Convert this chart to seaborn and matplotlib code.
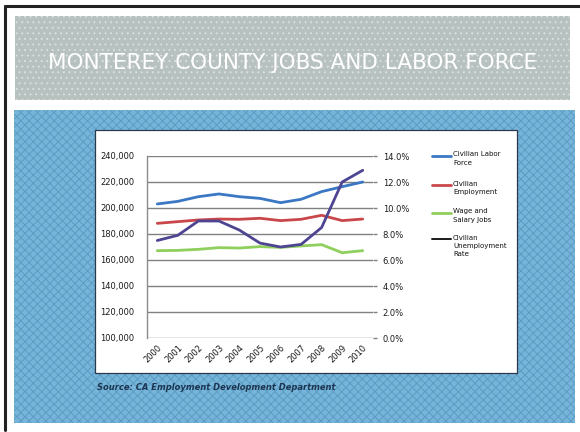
import matplotlib
matplotlib.use("Agg")
import matplotlib.pyplot as plt
from matplotlib.patches import Rectangle
from matplotlib.lines import Line2D
from matplotlib.ticker import FuncFormatter, PercentFormatter
import pandas as pd
import seaborn as sns

# Annual figures, Monterey County
years = [2000, 2001, 2002, 2003, 2004, 2005, 2006, 2007, 2008, 2009, 2010]
labor_force = [203100, 205100, 208700, 210800, 208700, 207400, 204100, 206700, 212600, 216400, 220000]
employment = [188200, 189500, 190800, 191500, 191300, 192100, 190300, 191300, 194400, 190300, 191500]
wage_salary_jobs = [167200, 167400, 168200, 169500, 169200, 170300, 169700, 170800, 171800, 165600, 167200]
unemployment_rate = [7.5, 7.9, 9.0, 9.0, 8.3, 7.3, 7.0, 7.2, 8.5, 12.0, 12.9]

series_names = ["Civilian Labor\nForce", "Civilian\nEmployment", "Wage and\nSalary Jobs"]
rate_name = "Civilian\nUnemployment\nRate"
colors = ["#3a78c4", "#c9474a", "#8fcf5c"]
rate_color = "#4d4592"

title = "MONTEREY COUNTY JOBS AND LABOR FORCE"
source = "Source: CA Employment Development Department"

sns.set_style("white")
plt.rcParams["font.family"] = ["DejaVu Sans"]
plt.rcParams["hatch.linewidth"] = 0.7

W, H = 580, 432
fig = plt.figure(figsize=(W / 100, H / 100), dpi=100)
fig.patch.set_facecolor("white")


def fx(x):
    return x / W


def fy(y):
    return 1 - y / H


def px_rect(x0, y0, x1, y1, **kw):
    """Rectangle given in pixel coordinates measured from the top-left."""
    r = Rectangle((fx(x0), fy(y1)), (x1 - x0) / W, (y1 - y0) / H,
                  transform=fig.transFigure, **kw)
    fig.add_artist(r)
    return r


# slide backdrop: title band, textured blue panel, white chart card
px_rect(15, 16, 570, 100, facecolor="#b7c1bf", edgecolor="#d9e0de", hatch="...", lw=0, zorder=0)
px_rect(14, 110, 575, 423, facecolor="#76b5d9", edgecolor="#5b9cc4", hatch="xxxx", lw=0, zorder=0)
px_rect(95, 130, 517, 373, facecolor="white", edgecolor="#2a3a4a", lw=0.9, zorder=1)

# frame lines of the slide
fig.add_artist(Line2D([fx(5), fx(5)], [fy(6), fy(430)], color="#222222", lw=2.2,
                      transform=fig.transFigure))
fig.add_artist(Line2D([fx(5), 1.0], [fy(6), fy(6)], color="#222222", lw=2.2,
                      transform=fig.transFigure))

fig.text(fx(293), fy(63), title, color="white", fontsize=15.5, fontweight="normal",
         ha="center", va="center")
fig.text(fx(97), fy(388), source, color="#1d3550", fontsize=6, fontweight="bold",
         fontstyle="italic", ha="left", va="center")

# chart axes
ax = fig.add_axes([fx(147), fy(338), (373 - 147) / W, (338 - 156) / H])
ax.set_zorder(2)
ax.patch.set_alpha(0)

df = pd.DataFrame({
    "Year": years * 3,
    "Value": labor_force + employment + wage_salary_jobs,
    "Series": [series_names[0]] * len(years) + [series_names[1]] * len(years)
              + [series_names[2]] * len(years),
})
sns.lineplot(data=df, x="Year", y="Value", hue="Series", palette=colors, lw=2.0,
             legend=False, ax=ax, zorder=3)

ax.set_xlim(1999.5, 2010.5)
ax.set_ylim(100000, 240000)
ax.set_yticks(range(100000, 240001, 20000))
ax.yaxis.set_major_formatter(FuncFormatter(lambda v, p: f"{int(v):,}"))
ax.set_xticks(years)
ax.set_xticklabels([str(y) for y in years], rotation=45, ha="right",
                   rotation_mode="anchor")
ax.set_xlabel("")
ax.set_ylabel("")
ax.grid(axis="y", color="#808080", lw=1.0)
ax.set_axisbelow(True)
for side in ["top", "right", "bottom"]:
    ax.spines[side].set_visible(False)
ax.spines["left"].set_color("#8c8c8c")
ax.spines["left"].set_linewidth(1.0)
ax.tick_params(axis="y", length=0, pad=9, labelsize=6, labelcolor="#1a1a1a")
ax.tick_params(axis="x", length=0, pad=4, labelsize=6, labelcolor="#1a1a1a")

ax2 = ax.twinx()
sns.lineplot(x=years, y=unemployment_rate, color=rate_color, lw=2.0, ax=ax2, zorder=4)
ax2.set_ylim(0, 14)
ax2.set_yticks(range(0, 15, 2))
ax2.yaxis.set_major_formatter(PercentFormatter(decimals=1))
for side in ["top", "left", "bottom", "right"]:
    ax2.spines[side].set_visible(False)
ax2.tick_params(axis="y", length=3, width=1.0, color="#808080", pad=4, labelsize=6,
                labelcolor="#1a1a1a")
ax2.set_ylabel("")

# legend to the right of the plot: key line beside the first text line
legend_labels = series_names + [rate_name]
legend_colors = colors + ["#1a1a1a"]
legend_rows = [156, 185, 213, 239]
for label, col, y in zip(legend_labels, legend_colors, legend_rows):
    fig.add_artist(Line2D([fx(432), fx(451)], [fy(y), fy(y)], color=col,
                          lw=2.0 if col != "#1a1a1a" else 1.4,
                          transform=fig.transFigure))
    fig.text(fx(453), fy(y - 4.5), label, fontsize=5, color="#111111",
             ha="left", va="top", linespacing=1.45)

fig.savefig("out.png", dpi=100)
